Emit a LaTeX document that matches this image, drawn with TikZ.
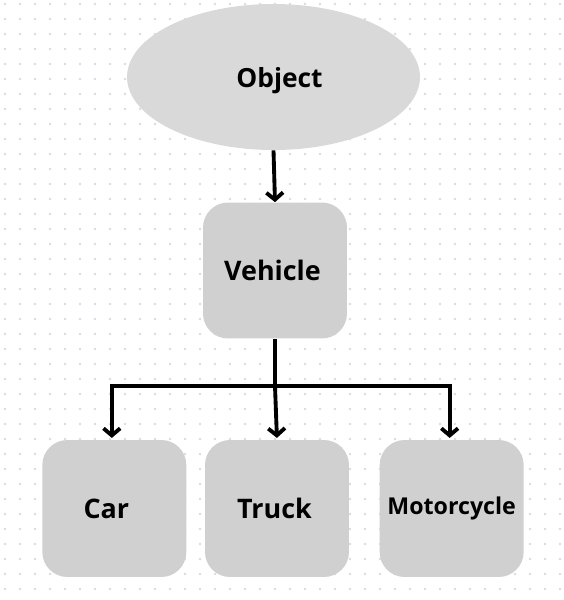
\documentclass[tikz,border=0pt]{standalone}
\usepackage{fontspec}
\setmainfont{Open Sans}
\usetikzlibrary{positioning,arrows.meta,calc,shapes.geometric}
\definecolor{dotC}{HTML}{D8DBE4}
\definecolor{rootC}{HTML}{D9D9D9}
\definecolor{boxC}{HTML}{D0D0D0}
\definecolor{lineC}{HTML}{000000}

\begin{document}
\begin{tikzpicture}[
  x=0.02cm, y=-0.02cm,
  every node/.style={font=\rmfamily\bfseries, text=black},
  rootnode/.style={
    ellipse, fill=rootC, draw=none,
    minimum width=5.86cm, minimum height=2.92cm, text depth=0pt,
    inner sep=0pt, font=\rmfamily\bfseries\fontsize{15}{18}\selectfont,
  },
  classbox/.style={
    fill=boxC, draw=none, rounded corners=0.5cm,
    minimum width=2.88cm, minimum height=2.72cm,
    inner sep=0pt, font=\rmfamily\bfseries\fontsize{15.3}{18}\selectfont,
  },
  flow/.style={-{Straight Barb[length=4pt,width=9.5pt,line width=2.2pt]}, lineC, line width=2.2pt},
]

% ── Background dots ──
\fill[white] (0,0) rectangle (564,600);
\useasboundingbox (0,0) rectangle (564,600);
\foreach \i in {0,...,37}{
  \foreach \j in {0,...,39}{
    \fill[dotC] (5+15*\i,4+15*\j) circle[radius=1.4];
  }
}

% ── Root ──
\node[rootnode] (object) at (273.5,77) {\hspace*{0.24cm}Object};

% ── Vehicle ──
\node[classbox] (vehicle) at (275,270.5) {\hspace*{-0.1cm}Vehicle};

% ── Subclasses ──
\node[classbox, minimum height=2.74cm] (truck) at (277,508.5) {\hspace*{-0.1cm}Truck};
\node[classbox, minimum height=2.74cm, left=0.36cm of truck] (car) {\hspace*{-0.32cm}Car};
\node[classbox, minimum height=2.74cm, right=0.6cm of truck,
      font=\rmfamily\bfseries\fontsize{13.2}{16}\selectfont] (moto) {Motorcycle};

% ── Arrows ──
\draw[flow] (object.south) -- (vehicle.north);
\coordinate (junc) at (vehicle.south |- 0,386);
\draw[lineC, line width=2.2pt] (vehicle.south) -- (junc);
\draw[flow, shorten >=1pt] (junc) -- (truck.north);
\draw[flow, shorten >=1pt] (junc) -| ([xshift=-0.05cm]car.north);
\draw[flow, shorten >=1pt] (junc) -| ([xshift=-0.04cm]moto.north);

\end{tikzpicture}
\end{document}
